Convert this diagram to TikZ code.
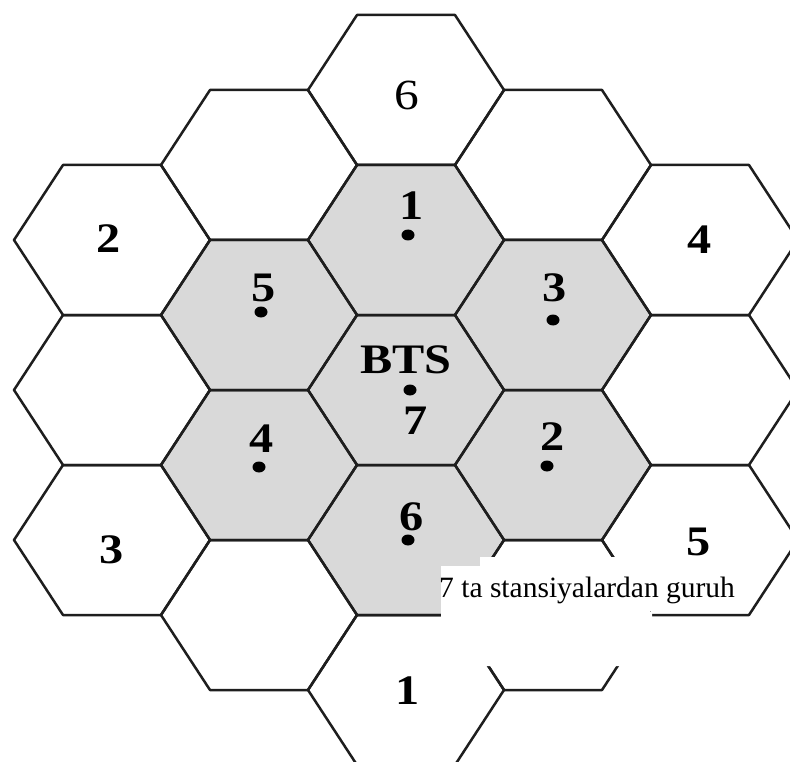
\documentclass[tikz,border=0pt]{standalone}
\usepackage{fontspec}
\setmainfont{Liberation Serif}
\definecolor{cellgray}{RGB}{217,217,217}
\definecolor{edgecol}{RGB}{30,30,30}
\tikzset{
  hexline/.style={draw=edgecol, line width=2.5pt, line join=round},
  hexfill/.style={fill=cellgray},
  numlbl/.style={inner sep=0pt, anchor=center, text=black, font=\fontsize{42}{46}\selectfont\bfseries},
  thinlbl/.style={inner sep=0pt, anchor=center, text=black, font=\fontsize{43}{47}\selectfont},
  notelbl/.style={inner sep=0pt, anchor=base west, text=black, font=\fontsize{29.5}{34}\selectfont},
  bsdot/.style={fill=black}
}
\newcommand\hexstretch[1]{\scalebox{1.15}[1]{#1}}
\begin{document}
\begin{tikzpicture}[x=1pt,y=-1pt]
\useasboundingbox (0,0) rectangle (790,762);
\clip (0,0) rectangle (790,762);
\fill[white] (0,0) rectangle (790,762);
% grey cells
\foreach \cx/\cy in {406/240,259/315,553/315,406/390,259/465,553/465,406/540}
  \fill[hexfill,shift={(\cx,\cy)}] (-98,0) -- (-49,-75) -- (49,-75) -- (98,0) -- (49,75) -- (-49,75) -- cycle;
% all outlines
\foreach \cx/\cy in {112/240,112/390,112/540,
                     259/165,259/315,259/465,259/615,
                     406/90,406/240,406/390,406/540,406/690,
                     553/165,553/315,553/465,553/615,
                     700/240,700/390,700/540}
  \draw[hexline,shift={(\cx,\cy)}] (-98,0) -- (-49,-75) -- (49,-75) -- (98,0) -- (49,75) -- (-49,75) -- cycle;
% white patch behind the caption
\fill[white] (480,557) -- (650,557) -- (650,612) -- (652,612) -- (652,666) -- (441,666) -- (441,566) -- (480,566) -- cycle;
% labels of the grey cells
\node[numlbl] (g1) at (412,206) {\hexstretch{1}};
\fill[bsdot] (408,235) ellipse [x radius=6.5pt, y radius=5.5pt];
\node[numlbl] (g5) at (264,288) {\hexstretch{5}};
\fill[bsdot] (261,312) ellipse [x radius=6.5pt, y radius=5.5pt];
\node[numlbl] (g3) at (555,288) {\hexstretch{3}};
\fill[bsdot] (553,320) ellipse [x radius=6.5pt, y radius=5.5pt];
\node[numlbl] (g4) at (262,439) {\hexstretch{4}};
\fill[bsdot] (259,467) ellipse [x radius=6.5pt, y radius=5.5pt];
\node[numlbl] (g2) at (553,437) {\hexstretch{2}};
\fill[bsdot] (547,466) ellipse [x radius=6.5pt, y radius=5.5pt];
\node[numlbl] (g6) at (412,517) {\hexstretch{6}};
\fill[bsdot] (408,540) ellipse [x radius=6.5pt, y radius=5.5pt];
\node[numlbl] (bts) at (406,360) {\hexstretch{BTS}};
\fill[bsdot] (410,390) ellipse [x radius=6.5pt, y radius=5.5pt];
\node[numlbl] (g7) at (416,421) {\hexstretch{7}};
% labels of the outer cells
\node[thinlbl] (o6) at (407,95) {\hexstretch{6}};
\node[numlbl] (o2) at (109,239) {\hexstretch{2}};
\node[numlbl] (o4) at (700,240) {\hexstretch{4}};
\node[numlbl] (o3) at (112,550) {\hexstretch{3}};
\node[numlbl] (o5) at (699,542) {\hexstretch{5}};
\node[numlbl] (o1) at (408,691) {\hexstretch{1}};
% caption
\node[notelbl] (cap) at (439,597) {7 ta stansiyalardan guruh};
\end{tikzpicture}
\end{document}
